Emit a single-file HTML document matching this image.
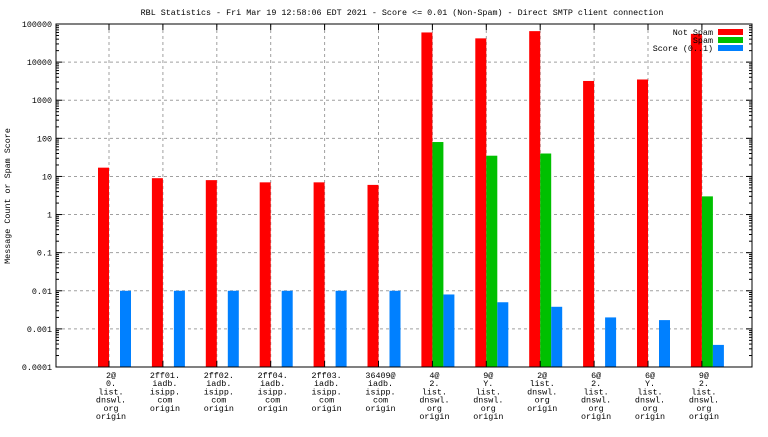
<!DOCTYPE html>
<html><head><meta charset="utf-8"><style>
body{margin:0;background:#fff}
text{font-family:"Liberation Mono",monospace;font-size:8.4px;fill:#000}
</style></head><body>
<svg id="c" width="768" height="432" xmlns="http://www.w3.org/2000/svg">
<text x="402" y="15" text-anchor="middle">RBL Statistics - Fri Mar 19 12:58:06 EDT 2021 - Score &lt;= 0.01 (Non-Spam) - Direct SMTP client connection</text>
<text transform="translate(10,196) rotate(-90)" text-anchor="middle">Message Count or Spam Score</text>
<g id="grid"></g><g id="bars"></g><g id="axes"></g>
<g>
<text x="713" y="35" text-anchor="end">Not Spam</text>
<rect x="718" y="29" width="25" height="6" fill="#ff0000"/>
<text x="713" y="43" text-anchor="end">Spam</text>
<rect x="718" y="37" width="25" height="6" fill="#00c000"/>
<text x="713" y="51" text-anchor="end">Score (0..1)</text>
<rect x="718" y="45" width="25" height="6" fill="#0080ff"/>
</g>
</svg>
<script>
const categories=[["2@","0.","list.","dnswl.","org","origin"],["2ff01.","iadb.","isipp.","com","origin"],["2ff02.","iadb.","isipp.","com","origin"],["2ff04.","iadb.","isipp.","com","origin"],["2ff03.","iadb.","isipp.","com","origin"],["36409@","iadb.","isipp.","com","origin"],["4@","2.","list.","dnswl.","org","origin"],["9@","Y.","list.","dnswl.","org","origin"],["2@","list.","dnswl.","org","origin"],["6@","2.","list.","dnswl.","org","origin"],["6@","Y.","list.","dnswl.","org","origin"],["9@","2.","list.","dnswl.","org","origin"]];
const notSpam=[17,9,8,7,7,6,60000,42000,65000,3200,3500,55000];
const spam=[0,0,0,0,0,0,80,35,40,0,0,3];
const score=[0.01,0.01,0.01,0.01,0.01,0.01,0.008,0.005,0.0038,0.002,0.0017,0.00038];
const yTicks=[0.0001,0.001,0.01,0.1,1,10,100,1000,10000,100000];
const yTickLabels=["0.0001","0.001","0.01","0.1","1","10","100","1000","10000","100000"];
const L=56,R=752,T=24,B=367;
const NS="http://www.w3.org/2000/svg";
function y(v){return B-(Math.log10(v)+4)/9*(B-T);}
function gc(i){return 114.5+53.9*i;}
function mk(p,tag,a){const e=document.createElementNS(NS,tag);for(const k in a)e.setAttribute(k,a[k]);p.appendChild(e);return e;}
const grid=document.getElementById('grid'),bars=document.getElementById('bars'),axes=document.getElementById('axes');
yTicks.forEach((v,k)=>{const yy=y(v);
 if(k>0&&k<yTicks.length-1)mk(grid,'line',{x1:L,x2:R,y1:yy,y2:yy,stroke:'#a0a0a0','stroke-dasharray':'3,3'});
 mk(axes,'line',{x1:L,x2:L+6,y1:yy,y2:yy,stroke:'#000'});mk(axes,'line',{x1:R,x2:R-6,y1:yy,y2:yy,stroke:'#000'});
 const t=mk(axes,'text',{x:L-4,y:yy+3,'text-anchor':'end'});t.textContent=yTickLabels[k];
 
 
 if(k<yTicks.length-1)for(let m=2;m<10;m++){const my=y(v*m);mk(axes,'line',{x1:L,x2:L+3,y1:my,y2:my,stroke:'#000'});mk(axes,'line',{x1:R,x2:R-3,y1:my,y2:my,stroke:'#000'});}
});
categories.forEach((c,i)=>{const cx=gc(i),tx=cx-5.5;
 mk(grid,'line',{x1:tx,x2:tx,y1:T,y2:B,stroke:'#a0a0a0','stroke-dasharray':'3,3'});
 mk(axes,'line',{x1:tx,x2:tx,y1:B,y2:B-6,stroke:'#000'});mk(axes,'line',{x1:tx,x2:tx,y1:T,y2:T+6,stroke:'#000'});
 const g=mk(axes,'text',{x:tx+2,y:B+11,'text-anchor':'middle'});
 
 
 c.forEach((s,j)=>{const ts=mk(g,'tspan',{x:tx+2,dy:j?8.2:0});ts.textContent=s;});
 [[notSpam,'#ff0000',-16.5,'bar-not-spam'],[spam,'#00c000',-5.5,'bar-spam'],[score,'#0080ff',5.5,'bar-score']].forEach(([arr,col,off,nm])=>{
  const v=arr[i];if(!(v>0))return;const yy=y(v);
  const r=mk(bars,'rect',{x:cx+off,y:yy,width:11,height:B-yy,fill:col});
  
  
 });
});
mk(axes,'rect',{x:L,y:T,width:R-L,height:B-T,fill:'none',stroke:'#000'});
</script>
</body></html>
